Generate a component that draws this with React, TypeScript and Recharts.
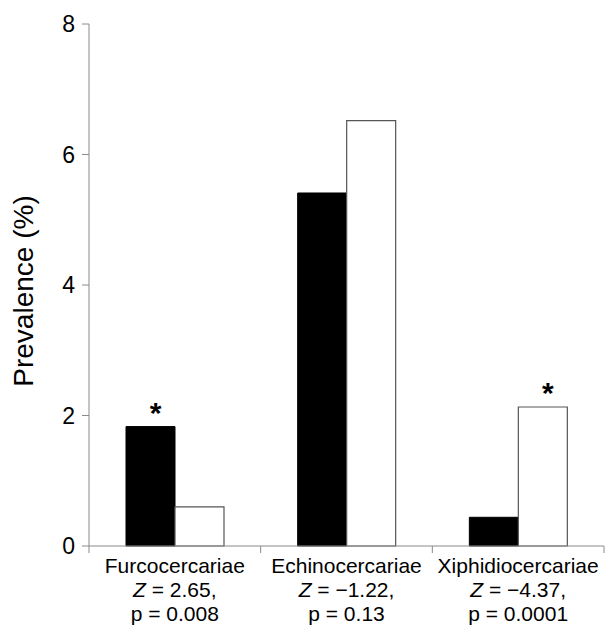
import React from "react";
import { BarChart, Bar, XAxis, YAxis, LabelList } from "recharts";

const categories = ["Furcocercariae", "Echinocercariae", "Xiphidiocercariae"];
const zStats = ["2.65", "\u22121.22", "\u22124.37"];
const pStats = ["0.008", "0.13", "0.0001"];
const blackValues = [1.83, 5.41, 0.44];
const whiteValues = [0.6, 6.52, 2.13];
const blackSig = ["*", "", ""];
const whiteSig = ["", "", "*"];
const yTicks = [0, 2, 4, 6, 8];

const data = categories.map((c, i) => ({
  name: c,
  z: zStats[i],
  p: pStats[i],
  black: blackValues[i],
  white: whiteValues[i],
  blackSig: blackSig[i],
  whiteSig: whiteSig[i],
}));

const FONT = '"Liberation Sans", Arial, Helvetica, sans-serif';
const AXIS_COLOR = "#8a8a8a";

const CategoryTick = (props: any) => {
  const { x, y, payload, index, visibleTicksCount, width } = props;
  const count = visibleTicksCount || categories.length;
  const band = typeof width === "number" && width > 0 ? width / count : 171.7;
  const d = data[index] || data.find((e) => e.name === payload.value);
  const isLast = index === count - 1;
  return (
    <g>
      <line x1={x - band / 2} x2={x - band / 2} y1={y} y2={y + 7} stroke={AXIS_COLOR} strokeWidth={1} />
      {isLast && (
        <line x1={x + band / 2} x2={x + band / 2} y1={y} y2={y + 7} stroke={AXIS_COLOR} strokeWidth={1} />
      )}
      <text x={x} y={y + 27} textAnchor="middle" fontSize={21} fontFamily={FONT} fill="#000">
        {payload.value}
      </text>
      <text x={x} y={y + 51} textAnchor="middle" fontSize={21} fontFamily={FONT} fill="#000">
        <tspan fontStyle="italic">Z</tspan>
        <tspan>{` = ${d ? d.z : ""},`}</tspan>
      </text>
      <text x={x} y={y + 75} textAnchor="middle" fontSize={21} fontFamily={FONT} fill="#000">
        {`p = ${d ? d.p : ""}`}
      </text>
    </g>
  );
};

const SigLabel = (props: any) => {
  const { x, y, width, value } = props;
  if (!value) return null;
  return (
    <text
      x={x + width / 2 + 5}
      y={y - 4}
      textAnchor="middle"
      fontSize={30}
      fontWeight="bold"
      fontFamily={FONT}
      fill="#000"
    >
      {value}
    </text>
  );
};

const YLabel = (props: any) => {
  const vb = props.viewBox || { x: 0, y: 24, width: 89, height: 522 };
  const cx = 33;
  const cy = vb.y + vb.height / 2 + 6;
  return (
    <text
      x={cx}
      y={cy}
      transform={`rotate(-90, ${cx}, ${cy})`}
      textAnchor="middle"
      fontSize={28}
      fontFamily={FONT}
      fill="#000"
    >
      Prevalence (%)
    </text>
  );
};

export default function App() {
  return (
    <div style={{ position: "absolute", left: 0, top: 0, background: "#fff" }}>
      <BarChart
        width={616}
        height={627}
        data={data}
        margin={{ top: 24, right: 12, bottom: 0, left: 0 }}
        barGap={0}
        barSize={49}
      >
        <XAxis
          dataKey="name"
          axisLine={{ stroke: AXIS_COLOR, strokeWidth: 1 }}
          tickLine={false}
          tickSize={0}
          tickMargin={0}
          height={81}
          interval={0}
          tick={<CategoryTick />}
        />
        <YAxis
          domain={[0, 8]}
          ticks={yTicks}
          width={89}
          axisLine={{ stroke: AXIS_COLOR, strokeWidth: 1 }}
          tickLine={{ stroke: AXIS_COLOR, strokeWidth: 1 }}
          tickSize={7}
          tickMargin={7}
          tick={{ fontSize: 23, fontFamily: FONT, fill: "#000" }}
          label={<YLabel />}
        />
        <Bar dataKey="black" fill="#000" stroke="#000" strokeWidth={1} isAnimationActive={false}>
          <LabelList dataKey="blackSig" content={<SigLabel />} />
        </Bar>
        <Bar dataKey="white" fill="#fff" stroke="#555" strokeWidth={1.2} isAnimationActive={false}>
          <LabelList dataKey="whiteSig" content={<SigLabel />} />
        </Bar>
      </BarChart>
    </div>
  );
}
